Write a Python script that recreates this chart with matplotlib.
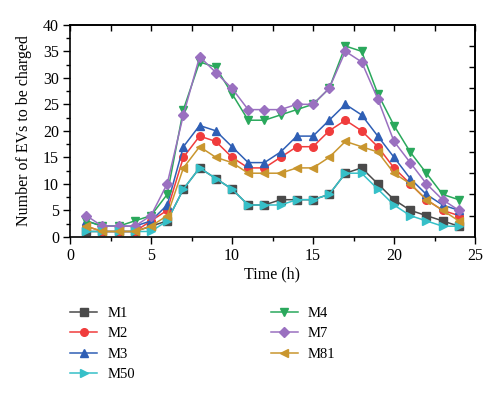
import matplotlib
matplotlib.use("Agg")
import matplotlib.pyplot as plt
from matplotlib.ticker import MultipleLocator

hours = list(range(1, 25))
M1 = [1, 1, 1, 1, 2, 3, 9, 13, 11, 9, 6, 6, 7, 7, 7, 8, 12, 13, 10, 7, 5, 4, 3, 2]
M2 = [2, 1, 1, 1, 3, 5, 15, 19, 18, 15, 13, 13, 15, 17, 17, 20, 22, 20, 17, 13, 10, 7, 5, 4]
M3 = [3, 2, 2, 2, 3, 6, 17, 21, 20, 17, 14, 14, 16, 19, 19, 22, 25, 23, 19, 15, 11, 8, 6, 5]
M4 = [3, 2, 2, 3, 4, 8, 24, 33, 32, 27, 22, 22, 23, 24, 25, 28, 36, 35, 27, 21, 16, 12, 8, 7]
M7 = [4, 2, 2, 2, 4, 10, 23, 34, 31, 28, 24, 24, 24, 25, 25, 28, 35, 33, 26, 18, 14, 10, 7, 5]
M50 = [1, 1, 1, 1, 1, 3, 9, 13, 11, 9, 6, 6, 6, 7, 7, 8, 12, 12, 9, 6, 4, 3, 2, 2]
M81 = [2, 1, 1, 1, 2, 4, 13, 17, 15, 14, 12, 12, 12, 13, 13, 15, 18, 17, 16, 12, 10, 7, 5, 3]

plt.rcParams['font.family'] = ['Liberation Serif', 'DejaVu Serif']

fig = plt.figure(figsize=(5.0, 3.94), dpi=100)
ax = fig.add_axes([0.14, 0.399, 0.81, 0.538])

styles = {
    'M1': ('#4a4a4a', 's'),
    'M2': ('#f03c3c', 'o'),
    'M3': ('#2f5fb5', '^'),
    'M4': ('#2aa85c', 'v'),
    'M7': ('#9a70c0', 'D'),
    'M50': ('#36c0c8', '>'),
    'M81': ('#c9962e', '<'),
}
data = {'M1': M1, 'M2': M2, 'M3': M3, 'M4': M4, 'M7': M7, 'M50': M50, 'M81': M81}
lines = {}
for name in ['M1', 'M2', 'M3', 'M4', 'M7', 'M50', 'M81']:
    c, m = styles[name]
    ms = 4.6 if m == 'D' else 5.5
    ln, = ax.plot(hours, data[name], color=c, marker=m, markersize=ms, lw=1.1, label=name)
    lines[name] = ln

ax.set_xlim(0, 25)
ax.set_ylim(0, 40)
ax.xaxis.set_major_locator(MultipleLocator(5))
ax.xaxis.set_minor_locator(MultipleLocator(2.5))
ax.yaxis.set_major_locator(MultipleLocator(5))
ax.yaxis.set_minor_locator(MultipleLocator(2.5))
ax.tick_params(which='both', direction='out', labelsize=11.5, width=1, pad=3)
ax.tick_params(which='major', length=5)
ax.tick_params(which='minor', length=3)

# mirrored inward ticks on top and right
top = ax.secondary_xaxis('top')
top.xaxis.set_major_locator(MultipleLocator(2.5))
top.tick_params(direction='in', length=4, width=1, labeltop=False)
right = ax.secondary_yaxis('right')
right.set_yticks([4, 8, 12, 16, 20, 24, 28, 32, 36])
right.tick_params(direction='in', length=4, width=1, labelright=False)

for s in list(ax.spines.values()) + list(top.spines.values()) + list(right.spines.values()):
    s.set_linewidth(1.2)
ax.set_xlabel('Time (h)', fontsize=11.5, labelpad=2)
ax.set_ylabel('Number of EVs to be charged', fontsize=11.5, labelpad=8)

order = ['M1', 'M2', 'M3', 'M50', 'M4', 'M7', 'M81']
fig.legend([lines[n] for n in order], order, ncol=2, loc='upper left',
           bbox_to_anchor=(0.114, 0.255), frameon=False, fontsize=10.5,
           handlelength=1.85, columnspacing=9.3, labelspacing=0.5, handletextpad=0.7)

fig.savefig('out.png', dpi=100)
